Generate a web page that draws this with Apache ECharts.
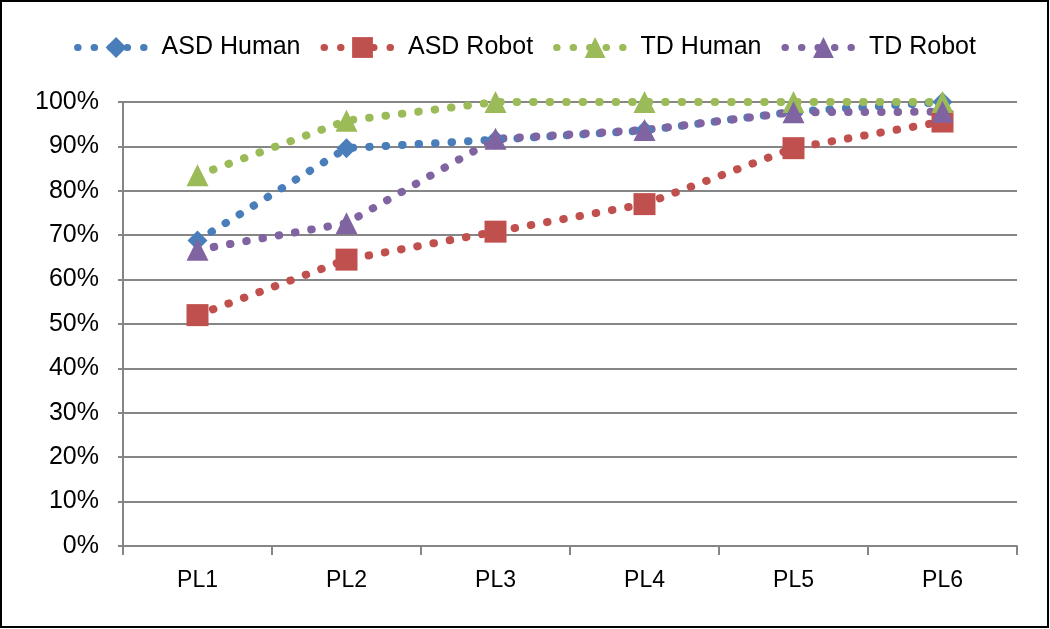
<!DOCTYPE html>
<html>
<head>
<meta charset="utf-8">
<script src="https://cdn.jsdelivr.net/npm/echarts@6/dist/echarts.min.js"></script>
<style>
  html, body { margin: 0; padding: 0; background: #fff; }
  #chart { width: 1050px; height: 629px; }
</style>
</head>
<body>
<div id="chart"></div>
<script>
// data (percent)
const categories = ['PL1', 'PL2', 'PL3', 'PL4', 'PL5', 'PL6']
const asdHuman = [68.8, 89.6, 91.5, 93.6, 97.8, 100]
const asdRobot = [52, 64.5, 70.8, 77, 89.6, 95.6]
const tdHuman = [83.5, 95.8, 100, 100, 100, 100]
const tdRobot = [66.7, 72.7, 91.7, 93.7, 97.7, 97.8]

const font = "'Liberation Sans', Arial, sans-serif"

function dotted(name, data, color, symbol, size) {
  return {
    name: name,
    type: 'line',
    data: data,
    symbol: symbol,
    symbolSize: size,
    itemStyle: { color: color },
    lineStyle: { color: color, width: 8, type: [0.5, 16], cap: 'round' },
    emphasis: { disabled: true }
  }
}

const chart = echarts.init(document.getElementById('chart'))
chart.setOption({
  animation: false,
  backgroundColor: '#fff',
  textStyle: { fontFamily: font },
  graphic: [{
    type: 'rect',
    shape: { x: 1, y: 1, width: 1047, height: 626 },
    style: { fill: 'none', stroke: '#000', lineWidth: 2 },
    silent: true
  }],
  legend: {
    top: 30,
    left: 'center',
    itemWidth: 77,
    itemHeight: 26,
    itemGap: 20,
    lineStyle: { width: 7 },
    textStyle: { fontSize: 25, color: '#000', fontFamily: font, padding: [0, 0, 0, 2] }
  },
  grid: { left: 123, right: 33, top: 102, bottom: 83 },
  xAxis: {
    type: 'category',
    data: categories,
    boundaryGap: true,
    axisLine: { lineStyle: { color: '#868686', width: 2 } },
    axisTick: { show: true, length: 9, lineStyle: { color: '#868686', width: 2 } },
    axisLabel: { fontSize: 23, color: '#000', margin: 23, fontFamily: font }
  },
  yAxis: {
    type: 'value',
    min: 0,
    max: 100,
    interval: 10,
    axisLine: { show: true, lineStyle: { color: '#868686', width: 2 } },
    axisTick: { show: true, length: 5, lineStyle: { color: '#868686', width: 2 } },
    splitLine: { lineStyle: { color: '#868686', width: 2 } },
    axisLabel: { fontSize: 25, color: '#000', margin: 24, formatter: '{value}%', fontFamily: font }
  },
  series: [
    dotted('ASD Human', asdHuman, '#4a7ebb', 'diamond', 20),
    dotted('ASD Robot', asdRobot, '#c0504d', 'rect', 22),
    dotted('TD Human', tdHuman, '#9bbb59', 'triangle', 22),
    dotted('TD Robot', tdRobot, '#8064a2', 'triangle', 22)
  ]
})
</script>
</body>
</html>
